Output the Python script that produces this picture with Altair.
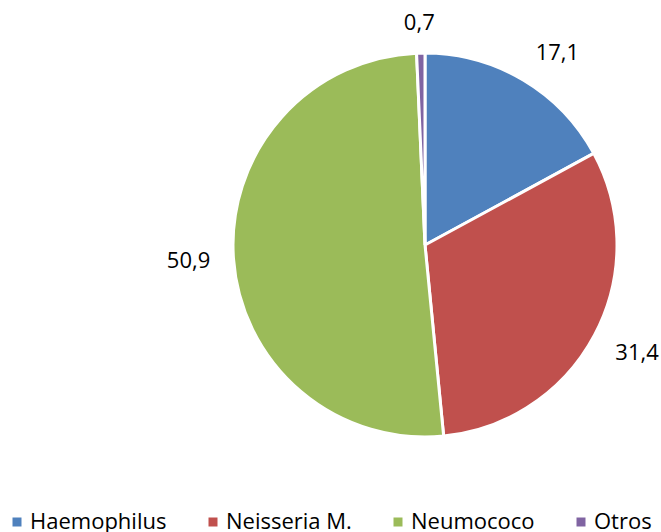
import altair as alt
import pandas as pd

# Meningitis agents and their share (%)
agentes = ["Haemophilus", "Neisseria M.", "Neumococo", "Otros"]
porcentajes = [17.1, 31.4, 50.9, 0.7]
colores = ["#4F81BD", "#C0504D", "#9BBB59", "#8064A2"]

df = pd.DataFrame({"agente": agentes, "valor": porcentajes, "orden": list(range(len(agentes)))})

FONT = "Open Sans"
CX, CY, R = 425, 245, 192
GAP = 214          # distance from centre to the label box's nearest point
HW, HH = 23, 8     # half extents of a label box

color_scale = alt.Scale(domain=agentes, range=colores)

pie = (
    alt.Chart(df)
    .mark_arc(radius=R, stroke="white", strokeWidth=3)
    .encode(
        theta=alt.Theta("valor:Q", stack=True),
        order=alt.Order("orden:Q"),
        x=alt.value(CX),
        y=alt.value(CY),
        color=alt.Color(
            "agente:N",
            scale=color_scale,
            sort=agentes,
            legend=alt.Legend(
                title=None,
                orient="none",
                legendX=6,
                legendY=511,
                direction="horizontal",
                symbolType="square",
                symbolSize=81,
                symbolStrokeWidth=0,
                labelFont=FONT,
                labelFontSize=22,
                labelColor="#000000",
                labelOffset=2,
                columnPadding=35,
                padding=0,
                labelLimit=300,
            ),
        ),
    )
)

# Labels sit outside the rim at each slice's middle angle (clockwise from 12 o'clock):
# the box's nearest corner/edge touches a circle of radius GAP
labels = (
    alt.Chart(df)
    .transform_joinaggregate(total="sum(valor)")
    .transform_window(acum="sum(valor)", sort=[alt.SortField("orden")], frame=[None, 0])
    .transform_calculate(
        ang="(datum.acum - datum.valor / 2) / datum.total * 2 * PI",
        px=f"{CX} + {GAP} * sin(datum.ang) + {HW} * max(-1, min(1, 2 * sin(datum.ang)))",
        py=f"{CY} - {GAP} * cos(datum.ang) - {HH} * max(-1, min(1, 2 * cos(datum.ang)))",
        etiqueta="replace(format(datum.valor, '.1f'), '.', ',')",
    )
    .mark_text(font=FONT, fontSize=22, color="#000000", align="center", baseline="middle")
    .encode(
        x=alt.X("px:Q", scale=None),
        y=alt.Y("py:Q", scale=None),
        text="etiqueta:N",
    )
)

chart = (
    alt.layer(pie, labels)
    .properties(width=661, height=532, autosize=alt.AutoSizeParams(type="none"), padding=0)
    .configure_view(stroke=None)
)

chart.save("out.html", embed_options={"renderer": "svg", "actions": False})
